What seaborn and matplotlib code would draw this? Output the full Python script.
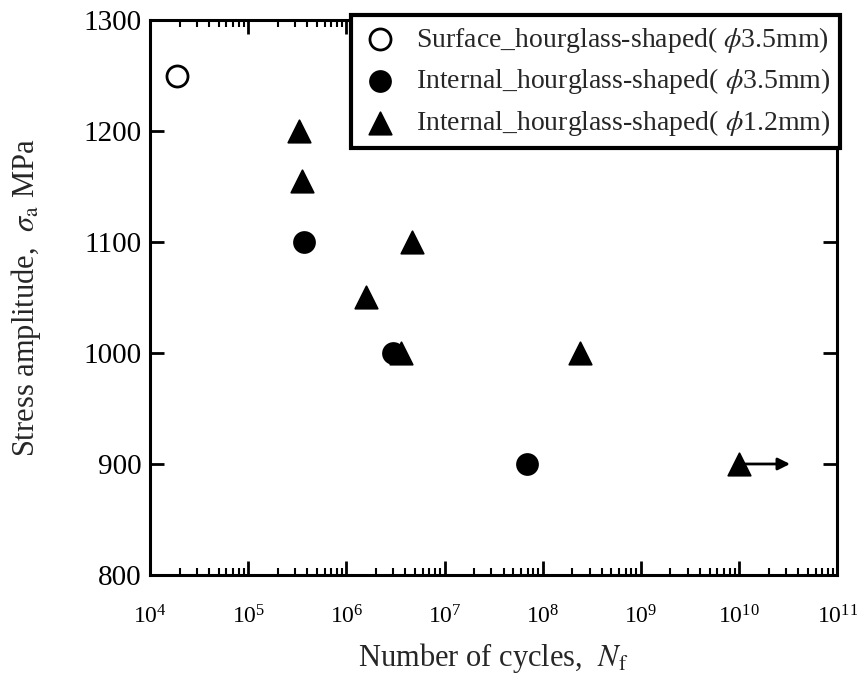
import matplotlib.pyplot as plt
import matplotlib.ticker as ticker
import seaborn as sns

# values
surface_N = [1.9e4]
surface_S = [1250]

int35_N = [3.7e5, 3.0e6, 6.9e7]
int35_S = [1100, 1000, 900]

int12_N = [3.3e5, 3.5e5, 4.7e6, 1.6e6, 3.6e6, 2.4e8, 1.0e10]
int12_S = [1200, 1155, 1100, 1050, 1000, 1000, 900]

# run-out (no failure) arrow
runout_from = (1.0e10, 900)
runout_to = (3.3e10, 900)

x_ticks = [1e4, 1e5, 1e6, 1e7, 1e8, 1e9, 1e10, 1e11]
y_ticks = [800, 900, 1000, 1100, 1200, 1300]

labels = [
    r"Surface_hourglass-shaped( $\phi$3.5mm)",
    r"Internal_hourglass-shaped( $\phi$3.5mm)",
    r"Internal_hourglass-shaped( $\phi$1.2mm)",
]

sns.set_style("ticks")
plt.rcParams["font.family"] = ["Liberation Serif", "DejaVu Serif"]
plt.rcParams["mathtext.fontset"] = "stix"

fig = plt.figure(figsize=(8.57, 6.85), dpi=100)
ax = fig.add_axes([0.175, 0.1606, 0.802, 0.8102])

sns.scatterplot(x=surface_N, y=surface_S, marker="o", s=230, facecolor="white",
                edgecolor="black", linewidth=2, label=labels[0], ax=ax, zorder=3)
sns.scatterplot(x=int35_N, y=int35_S, marker="o", s=230, color="black",
                edgecolor="black", label=labels[1], ax=ax, zorder=3)
sns.scatterplot(x=int12_N, y=int12_S, marker="^", s=260, color="black",
                edgecolor="black", label=labels[2], ax=ax, zorder=3)

ax.annotate("", xy=runout_to, xytext=runout_from,
            arrowprops=dict(arrowstyle="-|>", color="black", lw=2,
                            mutation_scale=18, shrinkA=0, shrinkB=0))

ax.set_xscale("log")
ax.set_xlim(1e4, 1e11)
ax.set_ylim(800, 1300)
ax.xaxis.set_major_locator(ticker.FixedLocator(x_ticks))
ax.xaxis.set_major_formatter(ticker.LogFormatterSciNotation())
ax.xaxis.set_minor_locator(ticker.LogLocator(base=10, subs=range(2, 10), numticks=20))
ax.xaxis.set_minor_formatter(ticker.NullFormatter())
ax.set_yticks(y_ticks)

ax.set_xlabel(r"Number of cycles,  $N_{\rm f}$", fontsize=22, labelpad=9)
ax.set_ylabel(r"Stress amplitude,  $\sigma_{\rm a}$ MPa", fontsize=22)
ax.yaxis.set_label_coords(-0.155, 0.5)

for s in ax.spines.values():
    s.set_linewidth(2.2)
    s.set_color("black")
ax.tick_params(which="both", direction="in", top=True, right=True, colors="black")
ax.tick_params(which="major", length=10, width=2)
ax.tick_params(axis="x", which="major", pad=22, labelsize=17)
ax.tick_params(axis="y", which="major", pad=6, labelsize=21)
ax.tick_params(which="minor", length=5, width=1.5)
ax.tick_params(axis="y", which="minor", left=False, right=False)

leg = ax.legend(loc="upper right", bbox_to_anchor=(1.004, 1.009), fontsize=20,
                frameon=True, fancybox=False, borderpad=0.35, handletextpad=0.6,
                labelspacing=0.42, borderaxespad=0, handlelength=1.4)
leg.get_frame().set_edgecolor("black")
leg.get_frame().set_linewidth(3)
leg.get_frame().set_alpha(1)

fig.savefig("out.png", dpi=100)
